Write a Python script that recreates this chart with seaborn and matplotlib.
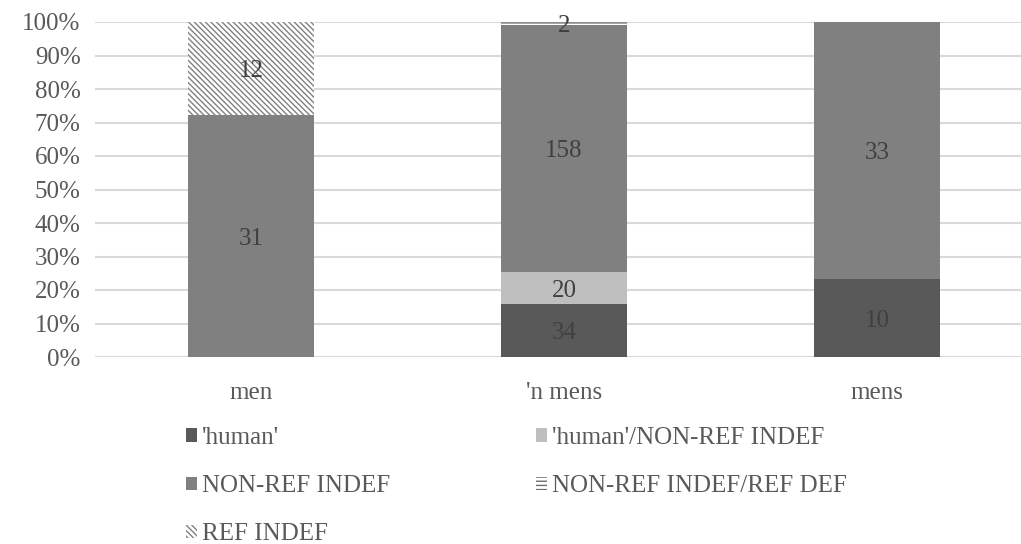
import matplotlib
matplotlib.use("Agg")
import matplotlib.pyplot as plt
import seaborn as sns
import numpy as np
import pandas as pd
from matplotlib.patches import Patch

categories = ["men", "'n mens", "mens"]
series_names = ["'human'", "'human'/NON-REF INDEF", "NON-REF INDEF",
                "NON-REF INDEF/REF DEF", "REF INDEF"]
human = [0, 34, 10]
human_nonref = [0, 20, 0]
nonref_indef = [31, 158, 33]
nonref_refdef = [0, 2, 0]
ref_indef = [12, 0, 0]
yticklabels = ["0%", "10%", "20%", "30%", "40%", "50%", "60%", "70%", "80%", "90%", "100%"]

sns.set_theme(style="white")
plt.rcParams['font.family'] = ['Liberation Serif', 'DejaVu Serif']
plt.rcParams['hatch.linewidth'] = 1.0
plt.rcParams['hatch.color'] = '#808080'

counts = np.array([human, human_nonref, nonref_indef, nonref_refdef, ref_indef], dtype=float)
totals = counts.sum(axis=0)
pct = counts / totals * 100

colors = ['#595959', '#BFBFBF', '#808080', '#FFFFFF', '#FFFFFF']
hatches = [None, None, None, '----', '\\' * 6]
edgecols = ['none', 'none', 'none', '#6F6F6F', '#808080']

W, H = 1021, 544
fig = plt.figure(figsize=(W / 100, H / 100), dpi=100)
ax = fig.add_axes([94.5 / W, (544 - 357) / H, 939 / W, 335 / H])

bottom = np.zeros(3)
for i, name in enumerate(series_names):
    df = pd.DataFrame({"cat": categories, "val": pct[i]})
    sns.barplot(data=df, x="cat", y="val", ax=ax, color=colors[i], width=0.40,
                bottom=bottom, hatch=hatches[i], edgecolor=edgecols[i], linewidth=0,
                saturation=1, errorbar=None, zorder=2)
    for j in range(3):
        if counts[i, j] > 0:
            ax.text(j, bottom[j] + pct[i, j] / 2, f"{int(counts[i, j])}", ha='center',
                    va='center_baseline', fontsize=18, color='#404040', zorder=5)
    bottom = bottom + pct[i]

ax.set_xlim(-0.5, 2.5)
ax.set_ylim(0, 100)
ax.set_yticks(np.arange(0, 101, 10))
ax.set_yticklabels(yticklabels, fontsize=18, color='#595959')
ax.tick_params(axis='x', labelsize=18, labelcolor='#595959', length=0, pad=18)
ax.tick_params(axis='y', length=0, pad=10)
ax.set_xlabel("")
ax.set_ylabel("")
ax.yaxis.grid(True, color='#D9D9D9', linewidth=1.5, zorder=0)
ax.set_axisbelow(True)
for s in ax.spines.values():
    s.set_visible(False)
ax.axhline(0, color='#D9D9D9', linewidth=1.5, zorder=1)

handles = [Patch(facecolor=colors[i], edgecolor=edgecols[i] if hatches[i] else colors[i],
                 hatch=hatches[i], linewidth=0, label=series_names[i]) for i in range(5)]
order = [0, 2, 4, 1, 3]
leg = fig.legend([handles[k] for k in order], [series_names[k] for k in order],
                 ncol=2, loc='upper left', bbox_to_anchor=(186 / W, 1 - 427 / H),
                 frameon=False, fontsize=18, handlelength=0.45, handleheight=0.45,
                 handletextpad=0.2, columnspacing=5.8, labelspacing=1.05,
                 labelcolor='#595959', borderaxespad=0, borderpad=0)

fig.savefig("out.png", dpi=100)
